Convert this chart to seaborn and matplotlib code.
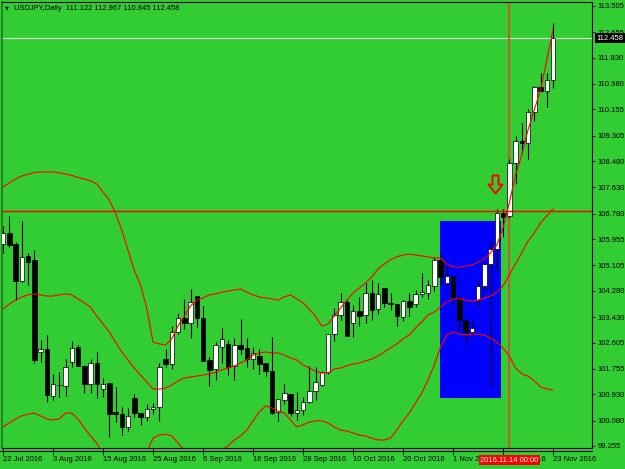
import numpy as np
import pandas as pd
import matplotlib
matplotlib.use("Agg")
import matplotlib.pyplot as plt
from matplotlib.patches import Rectangle
from matplotlib.path import Path
from matplotlib.lines import Line2D
import seaborn as sns

# ---------------- data ----------------
symbol_title = "USDJPY,Daily  111.122 112.967 110.845 112.458"
dates = pd.bdate_range("2016-07-22", "2016-11-23")

opens = [105.79, 106.14, 105.80, 104.60, 105.41, 105.28, 102.29, 102.39, 100.88, 101.24,
         101.21, 101.97, 102.46, 101.86, 101.25, 101.95, 101.10, 101.28, 100.35, 100.29,
         99.88, 100.80, 100.32, 100.20, 100.44, 100.51, 102.06, 101.91, 102.96, 103.41,
         103.23, 104.11, 103.41, 102.04, 101.74, 102.47, 102.56, 101.86, 102.53, 102.42,
         102.06, 102.17, 101.93, 101.69, 100.35, 100.74, 100.93, 100.33, 100.42, 100.67,
         101.03, 101.22, 101.64, 102.87, 103.50, 103.93, 103.23, 103.63, 103.50, 104.20,
         103.68, 104.36, 103.90, 103.85, 103.44, 103.96, 103.84, 104.17, 104.22, 104.44,
         105.28, 104.54, 104.76, 104.06, 103.34, 102.96, 103.98, 104.44, 105.14, 105.63,
         106.79, 106.70, 108.41, 109.13, 109.06, 110.08, 110.87, 110.76, 111.122]
highs = [106.38, 106.70, 105.87, 106.54, 105.52, 105.60, 102.69, 102.85, 101.59, 101.66,
         102.07, 102.66, 102.52, 101.88, 102.06, 102.29, 101.45, 101.29, 101.18, 100.51,
         100.48, 100.94, 100.33, 100.61, 100.64, 101.93, 102.41, 103.15, 103.55, 104.01,
         104.34, 104.11, 103.80, 102.13, 102.61, 103.07, 102.69, 102.76, 103.36, 102.76,
         102.45, 102.40, 101.95, 102.78, 100.77, 101.25, 100.94, 101.00, 100.85, 101.85,
         101.80, 101.67, 102.88, 103.71, 104.20, 103.98, 103.82, 104.09, 104.52, 104.63,
         104.52, 104.36, 104.20, 103.85, 103.98, 104.22, 104.31, 104.87, 104.63, 105.39,
         105.52, 105.19, 104.76, 104.15, 103.34, 103.34, 104.63, 105.16, 105.90, 106.92,
         106.92, 108.54, 109.30, 109.73, 110.16, 110.91, 111.34, 111.34, 112.967]
lows = [105.52, 105.71, 103.98, 104.58, 104.47, 101.93, 101.98, 100.67, 100.74, 100.85,
        100.87, 101.82, 101.84, 100.98, 100.98, 100.82, 100.85, 99.54, 100.04, 99.61,
        99.74, 100.20, 99.93, 100.07, 100.29, 100.06, 101.80, 101.74, 102.88, 103.05,
        102.76, 103.12, 102.01, 101.20, 101.39, 101.95, 101.55, 101.39, 102.23, 101.82,
        101.74, 101.59, 101.52, 100.30, 100.07, 100.61, 100.23, 100.10, 100.26, 100.64,
        100.74, 101.21, 101.59, 102.66, 103.34, 102.82, 102.79, 103.14, 103.25, 103.34,
        103.53, 103.77, 103.66, 103.14, 103.31, 103.47, 103.75, 104.09, 104.01, 104.27,
        104.44, 104.47, 103.79, 102.99, 102.55, 102.85, 103.77, 104.28, 101.18, 104.95,
        106.03, 106.63, 107.74, 108.75, 108.54, 109.78, 110.75, 110.24, 110.845]
closes = [106.14, 105.76, 104.61, 105.37, 105.22, 102.04, 102.39, 100.91, 101.25, 101.22,
          101.80, 102.42, 101.86, 101.26, 101.95, 101.25, 101.27, 100.29, 100.28, 99.86,
          100.23, 100.31, 100.20, 100.44, 100.52, 101.80, 101.92, 102.96, 103.41, 103.23,
          103.92, 103.41, 102.02, 101.72, 102.52, 102.71, 101.82, 102.53, 102.40, 102.06,
          102.28, 101.91, 101.69, 100.31, 100.77, 100.98, 100.31, 100.42, 100.67, 101.03,
          101.34, 101.64, 102.87, 103.49, 103.93, 102.83, 103.63, 103.47, 104.20, 103.66,
          104.17, 103.88, 103.84, 103.46, 103.95, 103.77, 104.17, 104.23, 104.46, 105.28,
          104.72, 104.76, 104.04, 103.34, 102.96, 103.09, 104.45, 105.14, 105.63, 106.81,
          106.66, 108.41, 109.13, 109.06, 110.08, 110.87, 110.76, 111.12, 112.458]

bb_upper = [107.64, 107.77, 107.90, 108.00, 108.06, 108.11, 108.13, 108.13, 108.13, 108.10,
            108.06, 108.02, 107.95, 107.90, 107.84, 107.74, 107.48, 107.22, 106.80, 106.25,
            105.60, 104.95, 104.47, 103.72, 102.62, 102.56, 102.53, 102.72, 103.14, 103.46,
            103.79, 103.98, 104.05, 104.15, 104.18, 104.24, 104.27, 104.31, 104.34, 104.24,
            104.15, 104.08, 104.05, 104.02, 103.98, 104.08, 104.15, 104.02, 103.89, 103.69,
            103.46, 103.14, 103.21, 103.46, 103.72, 103.98, 104.21, 104.37, 104.53, 104.73,
            104.99, 105.15, 105.28, 105.38, 105.44, 105.47, 105.44, 105.41, 105.38, 105.34,
            105.34, 105.15, 105.05, 105.05, 105.08, 105.12, 105.21, 105.31, 105.51, 105.76,
            106.31, 107.12, 108.03, 108.68, 109.49, 110.14, 110.78, 111.76, 112.73]
bb_middle = [103.69, 103.85, 103.98, 104.08, 104.15, 104.18, 104.15, 104.11, 104.11, 104.15,
             104.18, 104.15, 104.02, 103.89, 103.76, 103.46, 103.21, 102.95, 102.62, 102.30,
             102.04, 101.78, 101.55, 101.33, 101.10, 101.10, 101.13, 101.23, 101.36, 101.46,
             101.49, 101.52, 101.55, 101.59, 101.65, 101.72, 101.78, 101.85, 101.94, 102.04,
             102.20, 102.27, 102.30, 102.27, 102.27, 102.20, 102.11, 102.04, 101.88, 101.78,
             101.68, 101.62, 101.62, 101.75, 101.78, 101.85, 101.91, 101.94, 102.01, 102.07,
             102.17, 102.30, 102.43, 102.56, 102.72, 102.85, 103.08, 103.27, 103.50, 103.59,
             103.76, 103.92, 104.02, 104.02, 103.98, 103.95, 103.98, 104.05, 104.11, 104.24,
             104.44, 104.79, 105.15, 105.51, 105.89, 106.15, 106.48, 106.70, 106.93]
bb_lower = [99.87, 100.00, 100.13, 100.23, 100.29, 100.32, 100.23, 100.13, 100.10, 100.13,
            100.32, 100.32, 100.13, 99.84, 99.58, 99.35, 99.00, 98.74, 98.54, 98.41,
            98.48, 98.61, 98.74, 99.06, 99.51, 99.61, 99.64, 99.58, 99.35, 99.12,
            98.93, 98.87, 98.93, 98.96, 99.03, 99.12, 99.26, 99.45, 99.58, 99.77,
            100.07, 100.36, 100.55, 100.49, 100.39, 100.32, 100.10, 99.87, 99.94, 100.03,
            100.07, 100.07, 100.00, 99.87, 99.77, 99.74, 99.68, 99.61, 99.58, 99.51,
            99.45, 99.45, 99.51, 99.77, 100.07, 100.32, 100.65, 100.97, 101.39, 101.88,
            102.46, 102.85, 102.95, 102.88, 102.85, 102.88, 102.88, 102.85, 102.75, 102.62,
            102.43, 102.17, 101.78, 101.59, 101.52, 101.36, 101.17, 101.10, 101.07]

price_ticks = [113.505, 112.655, 111.830, 110.980, 110.155, 109.305, 108.480, 107.630,
               106.780, 105.955, 105.105, 104.280, 103.430, 102.605, 101.755, 100.930,
               100.080, 99.255]
resistance_level = 106.88
current_price = 112.458
marker_bar = 81
marker_label = "2016.11.14 00:00"
zone_bars = [69.92, 79.68]
zone_prices = [100.81, 106.54]
arrow_bar = 78.72
arrow_price = 107.74

# ---------------- styling ----------------
GREEN = "#32CD32"
sns.set_style("white")
plt.rcParams["font.family"] = ["Liberation Sans", "DejaVu Sans"]
FS = 5.5

W, H = 625, 469
fig = plt.figure(figsize=(W / 100, H / 100), dpi=100, facecolor=GREEN)
ax = fig.add_axes([2 / W, 1 - 448 / H, 590 / W, 446 / H])
ax.set_facecolor(GREEN)

n = len(closes)
x = np.arange(n)
o = np.array(opens)
c = np.array(closes)

# blue zone (background object)
ax.add_patch(Rectangle((zone_bars[0], zone_prices[0]), zone_bars[1] - zone_bars[0],
                       zone_prices[1] - zone_prices[0], facecolor="#0000FF",
                       edgecolor="none", zorder=1))

# horizontal / vertical lines
ax.axhline(current_price, color="#e6e6e6", lw=0.8, zorder=2)
ax.axvline(marker_bar, color="#b8602e", lw=1.5, zorder=2)

# candles
ax.vlines(x, lows, highs, color="black", lw=0.8, zorder=3)
bottoms = np.minimum(o, c)
heights = np.maximum(np.abs(c - o), 0.015)
body_colors = np.where(c >= o, "white", "black")
ax.bar(x, heights, bottom=bottoms, width=0.72, color=body_colors,
       edgecolor="black", linewidth=0.5, zorder=4)

# Bollinger bands via seaborn
bands = pd.DataFrame({"bar": x, "upper": bb_upper, "middle": bb_middle, "lower": bb_lower})
for col in ["upper", "middle", "lower"]:
    sns.lineplot(data=bands, x="bar", y=col, color="#ff0000", lw=0.8, ax=ax,
                 zorder=5, legend=False)

ax.axhline(resistance_level, color="#ff0000", lw=1.0, zorder=6)

# down arrow marker
arrow_path = Path([(-3, 9), (3, 9), (3, 0), (7, 0), (0, -9), (-7, 0), (-3, 0), (-3, 9)],
                  [Path.MOVETO] + [Path.LINETO] * 6 + [Path.CLOSEPOLY])
ax.plot([arrow_bar], [arrow_price], marker=arrow_path, markersize=13, mfc="none",
        mec="#ff0000", mew=1.4, ls="none", zorder=7)

# axes limits and ticks
ax.set_xlim(-0.16, 94.24)
ax.set_ylim(99.19, 113.634)
ax.set_xlabel("")
ax.set_ylabel("")

ax.yaxis.tick_right()
ax.set_yticks(price_ticks)
ax.set_yticklabels([f"{v:.3f}" for v in price_ticks])
ax.tick_params(axis="y", right=True, left=False, direction="out", length=2.5,
               width=0.6, pad=1.5, labelsize=FS, colors="black")

tick_bars = x[::8]
tick_labels = [f"{d.day} {d.strftime('%b %Y')}" for d in dates[::8]]
ax.set_xticks(tick_bars)
ax.set_xticklabels(tick_labels, ha="left")
ax.tick_params(axis="x", bottom=True, direction="out", length=5, width=0.6,
               pad=0.5, labelsize=FS, colors="black")

for side in ["top", "right", "bottom"]:
    ax.spines[side].set_color("black")
    ax.spines[side].set_linewidth(0.8)
ax.spines["left"].set_color("#1f7a1f")
ax.spines["left"].set_linewidth(1.2)

# second axis line under the chart
fig.add_artist(Line2D([0, 592 / W], [1 - 451 / H, 1 - 451 / H], color="black", lw=0.8))

# current price label
ax.annotate(f"{current_price:.3f}", xy=(1, current_price), xycoords=("axes fraction", "data"),
            xytext=(3, 0), textcoords="offset points", ha="left", va="center",
            fontsize=FS, color="white", zorder=10, annotation_clip=False,
            bbox=dict(boxstyle="square,pad=0.2", fc="black", ec="none"))

# vertical line date label
ax.annotate(marker_label, xy=(marker_bar, 0), xycoords=("data", "axes fraction"),
            xytext=(0, -8.8), textcoords="offset points", ha="center", va="center",
            fontsize=FS, color="white", zorder=10, annotation_clip=False,
            bbox=dict(boxstyle="square,pad=0.2", fc="#ff0000", ec="none"))

# title
fig.text(5 / W, 1 - 8 / H, "\u25BC", fontsize=3.5, color="black", va="center",
         ha="left", family=["DejaVu Sans"])
fig.text(14 / W, 1 - 8 / H, symbol_title, fontsize=5.4, color="black", va="center",
         ha="left")

fig.savefig("out.png", dpi=100, facecolor=GREEN)
